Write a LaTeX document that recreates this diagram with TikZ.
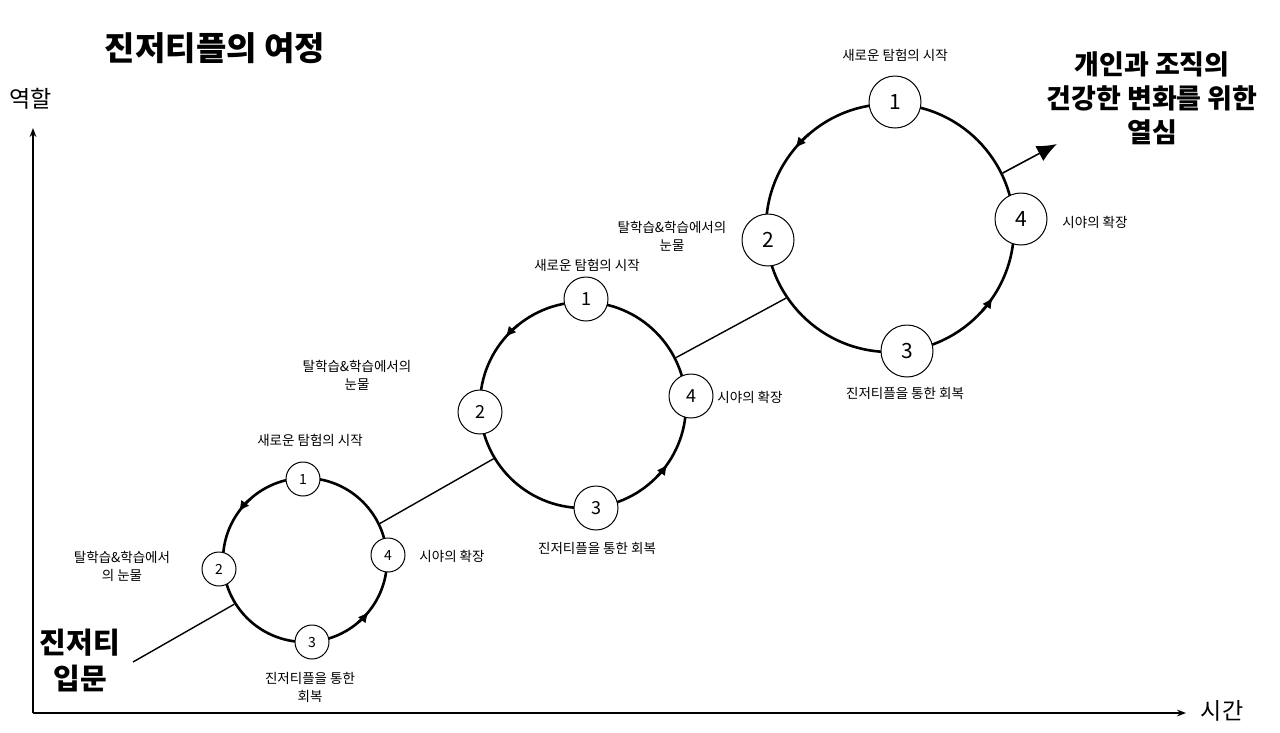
\documentclass[tikz,border=0pt]{standalone}
\usepackage{fontspec}
\setmainfont{Noto Sans CJK KR}
\usetikzlibrary{arrows.meta}
\begin{document}
\begin{tikzpicture}[x=1pt,y=-1pt,
  ring/.style={draw,circle,line width=2.6pt,inner sep=0pt},
  num/.style={draw,circle,fill=white,line width=1pt,inner sep=0pt},
  lbl/.style={font=\fontsize{13.5}{18}\selectfont,align=center},
  link/.style={line width=1.4pt},
  tip/.style={line width=2.6pt,-{Latex[length=11pt,width=10pt]}}]
\useasboundingbox (0,0) rectangle (1280,732);
% axes
\draw[line width=1.6pt,-{Stealth[length=9pt]}] (33,713) coordinate (o) -- (33,128) coordinate (ytop);
\draw[line width=1.6pt,-{Stealth[length=9pt]}] (o) -- (1186,713) coordinate (xend);
\node[font=\fontsize{23}{26}\selectfont] (yl) at (31,99) {역할};
\node[font=\fontsize{23}{26}\selectfont] (xl) at (1222,711) {시간};
% titles
\node[font=\fontsize{33}{38}\selectfont\bfseries] (title) at (215,48) {진저티플의 여정};
\node[font=\fontsize{27}{34}\selectfont\bfseries,align=center] (goal) at (1152,98) {개인과 조직의\\건강한 변화를 위한\\열심};
\node[font=\fontsize{29}{36}\selectfont\bfseries,align=center] (start) at (80,660) {진저티\\입문};
% circles
\node[ring,minimum size=164pt] (S) at (305,560) {};
\node[ring,minimum size=206pt] (M) at (583,405) {};
\node[ring,minimum size=248pt] (L) at (890,228) {};
% arrow tips on circles
\draw[tip] (305,560) ++(-132:82) arc[start angle=-132,end angle=-144,radius=82];
\draw[tip] (305,560) ++(50:82) arc[start angle=50,end angle=39,radius=82];
\draw[tip] (583,405) ++(-129:103) arc[start angle=-129,end angle=-139,radius=103];
\draw[tip] (583,405) ++(44:103) arc[start angle=44,end angle=35,radius=103];
\draw[tip] (890,228) ++(-131:124) arc[start angle=-131,end angle=-140,radius=124];
\draw[tip] (890,228) ++(42:124) arc[start angle=42,end angle=34,radius=124];
% links
\coordinate (entry) at (133,662);
\coordinate (exit) at (1057,144);
\draw[link] (entry) -- (S.212);
\draw[link] (S.26) -- (M.211);
\draw[link] (M.27) -- (L.214);
\draw[line width=1.6pt,-{Latex[length=20pt,width=17pt]}] (L.26) -- (exit);
% numbers
\node[num,minimum size=34pt,font=\fontsize{14}{16}\selectfont] (s1) at (303,479) {1};
\node[num,minimum size=34pt,font=\fontsize{14}{16}\selectfont] (s2) at (219,569) {2};
\node[num,minimum size=34pt,font=\fontsize{14}{16}\selectfont] (s3) at (312,642) {3};
\node[num,minimum size=34pt,font=\fontsize{14}{16}\selectfont] (s4) at (388,555) {4};
\node[num,minimum size=44pt,font=\fontsize{18}{20}\selectfont] (m1) at (586,299) {1};
\node[num,minimum size=44pt,font=\fontsize{18}{20}\selectfont] (m2) at (480,412) {2};
\node[num,minimum size=44pt,font=\fontsize{18}{20}\selectfont] (m3) at (596,508) {3};
\node[num,minimum size=44pt,font=\fontsize{18}{20}\selectfont] (m4) at (691,396) {4};
\node[num,minimum size=52pt,font=\fontsize{21}{24}\selectfont] (l1) at (895,102) {1};
\node[num,minimum size=52pt,font=\fontsize{21}{24}\selectfont] (l2) at (768,240) {2};
\node[num,minimum size=52pt,font=\fontsize{21}{24}\selectfont] (l3) at (907,351) {3};
\node[num,minimum size=52pt,font=\fontsize{21}{24}\selectfont] (l4) at (1021,219) {4};
% labels
\node[lbl] (t1) at (310,440) {새로운 탐험의 시작};
\node[lbl] (t2) at (122,566) {탈학습\&학습에서\\의 눈물};
\node[lbl] (t3) at (310,687) {진저티플을 통한\\회복};
\node[lbl] (t4) at (452,556) {시야의 확장};
\node[lbl] (u1) at (587,265) {새로운 탐험의 시작};
\node[lbl] (u2) at (357,375) {탈학습\&학습에서의\\눈물};
\node[lbl] (u3) at (597,548) {진저티플을 통한 회복};
\node[lbl] (u4) at (750,397) {시야의 확장};
\node[lbl] (v1) at (895,55) {새로운 탐험의 시작};
\node[lbl] (v2) at (672,236) {탈학습\&학습에서의\\눈물};
\node[lbl] (v3) at (905,393) {진저티플을 통한 회복};
\node[lbl] (v4) at (1095,222) {시야의 확장};
\end{tikzpicture}
\end{document}
